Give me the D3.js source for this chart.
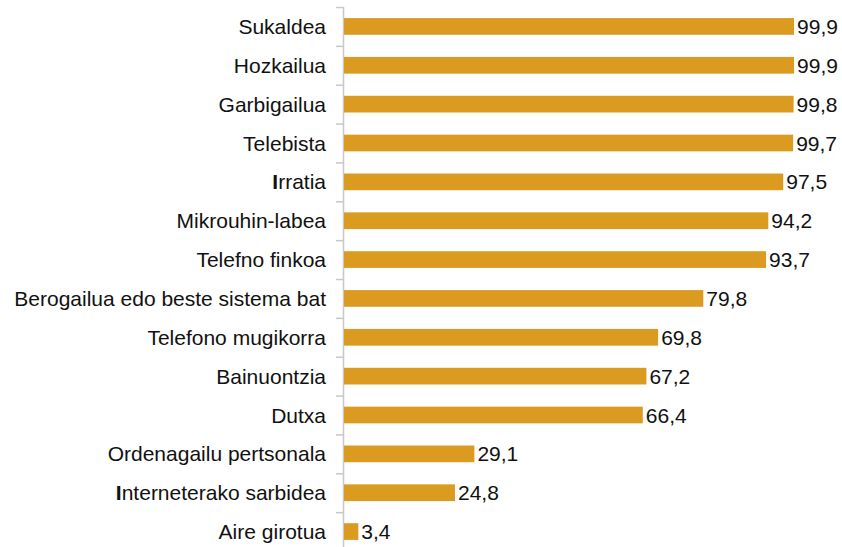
<!DOCTYPE html>
<html><head><meta charset="utf-8">
<script src="https://cdn.jsdelivr.net/npm/d3@7"></script>
<style>body{margin:0;background:#fff}svg{display:block}text{font-family:"Liberation Sans",Arial,Helvetica,sans-serif}</style>
</head><body>
<script>
const categories = ["Sukaldea","Hozkailua","Garbigailua","Telebista","Irratia","Mikrouhin-labea","Telefno finkoa","Berogailua edo beste sistema bat","Telefono mugikorra","Bainuontzia","Dutxa","Ordenagailu pertsonala","Interneterako sarbidea","Aire girotua"];
const values = [99.9,99.9,99.8,99.7,97.5,94.2,93.7,79.8,69.8,67.2,66.4,29.1,24.8,3.4];
const W=842,H=547;
const svg=d3.select("body").append("svg").attr("width",W).attr("height",H);
const x=d3.scaleLinear().domain([0,100]).range([343,794.5]);
const y=d3.scaleBand().domain(categories).range([7,551]).paddingInner(0.57).paddingOuter(0.285);
const y0=d3.scaleBand().domain(categories).range([7,551]);
svg.append("line").attr("x1",343.5).attr("x2",343.5).attr("y1",7).attr("y2",551).attr("stroke","#c8c8c8").attr("stroke-width",1.5);
svg.selectAll(".tk").data(categories).enter().append("line")
 .attr("x1",336).attr("x2",343.5).attr("y1",d=>y0(d)+0.5).attr("y2",d=>y0(d)+0.5).attr("stroke","#c8c8c8").attr("stroke-width",1.5);
svg.selectAll(".bar").data(values).enter().append("rect")
 .attr("x",x(0)+1).attr("y",(d,i)=>y(categories[i])).attr("height",y.bandwidth())
 .attr("width",d=>x(d)-x(0)-1).attr("fill","#DB9B20");
const cl=svg.selectAll(".cl").data(categories).enter().append("text")
 .attr("x",326).attr("y",d=>y0(d)+y0.bandwidth()/2).attr("dy","0.36em").attr("text-anchor","end")
 .attr("font-size",21).attr("fill","#111");
cl.each(function(d){
  const t=d3.select(this);
  if(d[0]==="I"){ t.append("tspan").attr("font-weight","bold").text("I"); t.append("tspan").text(d.slice(1)); }
  else t.text(d);
});
svg.selectAll(".vl").data(values).enter().append("text")
 .attr("x",d=>x(d)+3).attr("y",(d,i)=>y0(categories[i])+y0.bandwidth()/2).attr("dy","0.36em")
 .attr("font-size",21).attr("fill","#111").text(d=>d3.format(".1f")(d).replace(".",","));
</script>
</body></html>
